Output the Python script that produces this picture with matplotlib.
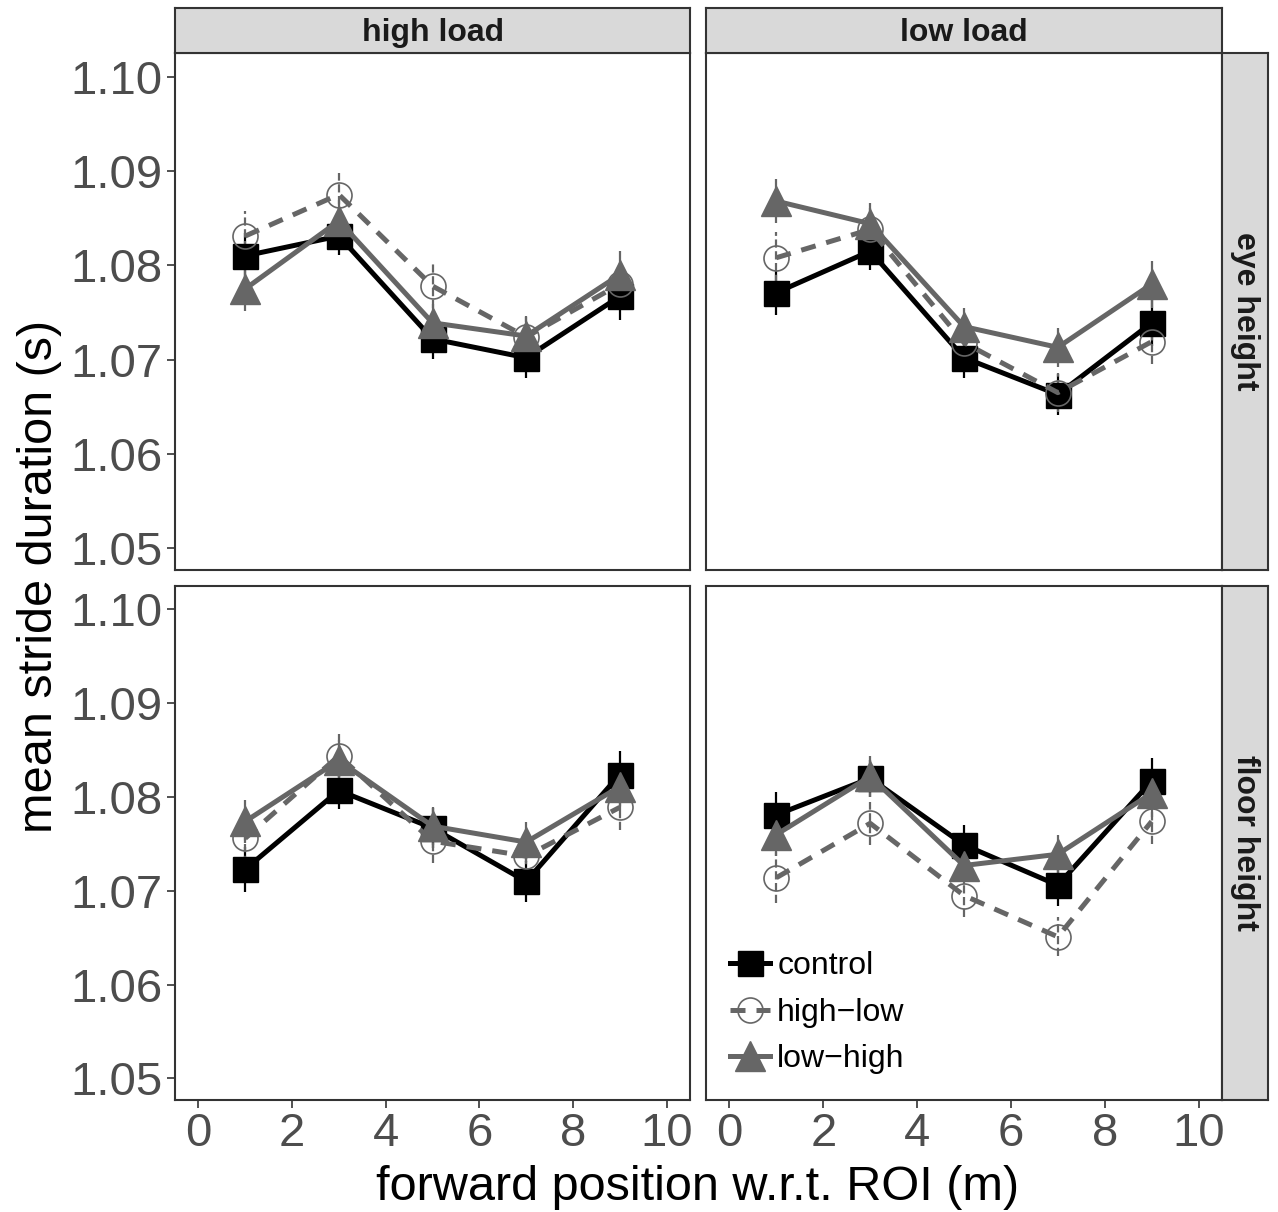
import matplotlib.pyplot as plt
import numpy as np

plt.rcParams['font.family'] = ['Liberation Sans', 'DejaVu Sans']

x = np.array([1, 3, 5, 7, 9])
loads = ['high load', 'low load']
heights = ['eye height', 'floor height']
groups = ['control', 'high\u2212low', 'low\u2212high']

# mean stride duration, [height][load][group]
means = {
    ('eye height', 'high load'): {
        'control': [1.0810, 1.0831, 1.0722, 1.0702, 1.0767],
        'high\u2212low': [1.0831, 1.0875, 1.0778, 1.0724, 1.0780],
        'low\u2212high': [1.0775, 1.0847, 1.0739, 1.0725, 1.0790],
    },
    ('eye height', 'low load'): {
        'control': [1.0771, 1.0815, 1.0702, 1.0663, 1.0739],
        'high\u2212low': [1.0808, 1.0838, 1.0718, 1.0665, 1.0719],
        'low\u2212high': [1.0868, 1.0844, 1.0735, 1.0713, 1.0780],
    },
    ('floor height', 'high load'): {
        'control': [1.0723, 1.0807, 1.0767, 1.0710, 1.0824],
        'high\u2212low': [1.0756, 1.0844, 1.0753, 1.0737, 1.0789],
        'low\u2212high': [1.0774, 1.0839, 1.0769, 1.0752, 1.0811],
    },
    ('floor height', 'low load'): {
        'control': [1.0781, 1.0820, 1.0749, 1.0706, 1.0817],
        'high\u2212low': [1.0714, 1.0772, 1.0695, 1.0651, 1.0774],
        'low\u2212high': [1.0760, 1.0822, 1.0727, 1.0739, 1.0804],
    },
}
se = {
    'control': [0.0024, 0.0020, 0.0021, 0.0022, 0.0025],
    'high\u2212low': [0.0027, 0.0023, 0.0023, 0.0021, 0.0024],
    'low\u2212high': [0.0023, 0.0022, 0.0020, 0.0021, 0.0025],
}

styles = {
    'control': dict(color='black', ls='-', marker='s', ms=18, mfc='black', mec='black', mew=1),
    'high\u2212low': dict(color='#666666', ls=(0, (3, 2.2)), marker='o', ms=18, mfc='none', mec='#666666', mew=1.2),
    'low\u2212high': dict(color='#666666', ls='-', marker='^', ms=21, mfc='#666666', mec='#666666', mew=1),
}
err_ls = {'control': '-', 'high\u2212low': '--', 'low\u2212high': '-'}

W, H = 1278, 1212
fig = plt.figure(figsize=(W / 100, H / 100), dpi=100)

cols = [(175, 690), (706, 1222)]
rows = [(53, 570), (586, 1100)]
frame = '#333333'
tickc = '#4D4D4D'

def fbox(x0, x1, y0, y1):
    return [x0 / W, 1 - y1 / H, (x1 - x0) / W, (y1 - y0) / H]

axes = {}
for i, h in enumerate(heights):
    for j, l in enumerate(loads):
        ax = fig.add_axes(fbox(cols[j][0], cols[j][1], rows[i][0], rows[i][1]))
        axes[(h, l)] = ax
        for g in groups:
            st = styles[g]
            ym = np.array(means[(h, l)][g])
            ax.vlines(x, ym - np.array(se[g]), ym + np.array(se[g]),
                      colors=st['color'], linestyles=err_ls[g], lw=1.6, zorder=2)
            ax.plot(x, ym, color=st['color'], ls=st['ls'], lw=3.6,
                    marker=st['marker'], ms=st['ms'], mfc=st['mfc'],
                    mec=st['mec'], mew=st['mew'], label=g, zorder=3)
        ax.set_xlim(-0.5, 10.5)
        ax.set_ylim(1.0477, 1.1025)
        ax.set_xticks([0, 2, 4, 6, 8, 10])
        ax.set_yticks([1.05, 1.06, 1.07, 1.08, 1.09, 1.10])
        ax.set_yticklabels(['%.2f' % v for v in ax.get_yticks()])
        ax.tick_params(direction='out', length=6, width=1.2, color=frame,
                       labelsize=34, labelcolor=tickc, pad=3)
        if i == 0:
            ax.tick_params(axis='x', labelbottom=False, length=0)
        if j == 1:
            ax.tick_params(axis='y', labelleft=False, length=0)
        for s in ax.spines.values():
            s.set_color(frame)
            s.set_linewidth(1.5)

# strips
for j, l in enumerate(loads):
    sa = fig.add_axes(fbox(cols[j][0], cols[j][1], 8, 53))
    sa.set_facecolor('#D9D9D9')
    sa.set_xticks([])
    sa.set_yticks([])
    for s in sa.spines.values():
        s.set_color(frame)
        s.set_linewidth(1.5)
    sa.text(0.5, 0.45, l, ha='center', va='center', fontsize=23,
            fontweight='bold', color='#1A1A1A', transform=sa.transAxes)
for i, h in enumerate(heights):
    sa = fig.add_axes(fbox(1222, 1268, rows[i][0], rows[i][1]))
    sa.set_facecolor('#D9D9D9')
    sa.set_xticks([])
    sa.set_yticks([])
    for s in sa.spines.values():
        s.set_color(frame)
        s.set_linewidth(1.5)
    sa.text(0.5, 0.5, h, ha='center', va='center', fontsize=23, rotation=-90,
            fontweight='bold', color='#1A1A1A', transform=sa.transAxes)

fig.text(698 / W, 1 - 1200 / H, 'forward position w.r.t. ROI (m)',
         ha='center', va='baseline', fontsize=35)
fig.text(40 / W, 1 - 576 / H, 'mean stride duration (s)',
         ha='center', va='center', fontsize=35, rotation=90)

axes[('floor height', 'low load')].legend(
    loc='lower left', bbox_to_anchor=(0.047, 0.05), frameon=False,
    fontsize=23, handlelength=1.25, handletextpad=0.22, labelspacing=0.52,
    borderpad=0, borderaxespad=0, markerscale=1.0)

fig.savefig('out.png', dpi=100)
